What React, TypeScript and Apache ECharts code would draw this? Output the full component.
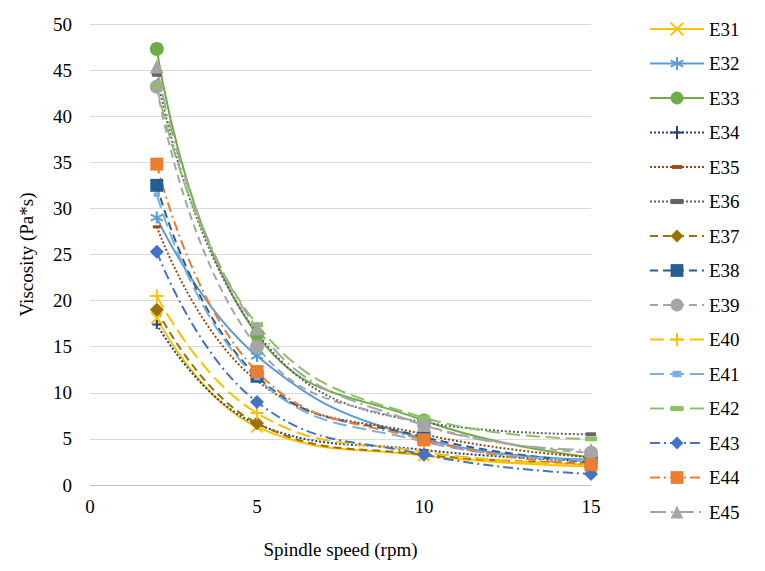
import React, { useEffect, useRef } from 'react';
import * as echarts from 'echarts';

// spindle speeds (rpm)
const speeds = [2, 5, 10, 15];

const names = ['E31', 'E32', 'E33', 'E34', 'E35', 'E36', 'E37', 'E38', 'E39', 'E40', 'E41', 'E42', 'E43', 'E44', 'E45'];

// viscosity (Pa*s) per sample, read at 2, 5, 10, 15 rpm
const e31 = [18.1, 6.3, 3.2, 2.0];
const e32 = [29.0, 14.0, 5.0, 2.8];
const e33 = [47.3, 16.3, 7.0, 3.0];
const e34 = [17.4, 6.6, 3.8, 2.6];
const e35 = [28.0, 11.3, 5.5, 3.0];
const e36 = [44.5, 16.5, 6.8, 5.5];
const e37 = [19.0, 6.7, 3.3, 2.4];
const e38 = [32.5, 11.8, 5.2, 2.5];
const e39 = [43.2, 15.0, 6.5, 3.5];
const e40 = [20.5, 7.8, 3.6, 2.2];
const e41 = [31.5, 11.6, 4.7, 2.7];
const e42 = [43.3, 17.4, 7.3, 5.0];
const e43 = [25.3, 9.0, 3.3, 1.2];
const e44 = [34.8, 12.3, 4.9, 2.2];
const e45 = [45.4, 17.0, 6.5, 3.8];
const values = [e31, e32, e33, e34, e35, e36, e37, e38, e39, e40, e41, e42, e43, e44, e45];

const yTicks = [0, 5, 10, 15, 20, 25, 30, 35, 40, 45, 50];

const SERIF = 'Liberation Serif, DejaVu Serif, serif';

const CROSS = 'path://M0,0L10,10M10,0L0,10';
const STAR = 'path://M5,0L5,10M0.7,2.5L9.3,7.5M0.7,7.5L9.3,2.5';
const PLUS = 'path://M5,0L5,10M0,5L10,5';
// the leading moves keep a square box so the dash keeps its shape in the legend too
const DASH_S = 'path://M0,0M10,10M1,3.5h8v3h-8z';
const DASH_M = 'path://M0,0M10,10M0,3h10v4h-10z';
const BLOCK = 'path://M0,0M10,10M1.5,2.5h7v5h-7z';

const DOT = [2, 2];
const DASH = [8, 5];
const LONG = [14, 6];
const DASHDOT = [10, 4, 2, 4];
const LONGDOT = [16, 5, 2, 5];

const styles: any[] = [
    { c: '#FFC000', t: 'solid', s: CROSS, z: 11, open: true },
    { c: '#5B9BD5', t: 'solid', s: STAR, z: 12, open: true },
    { c: '#70AD47', t: 'solid', s: 'circle', z: 14 },
    { c: '#264478', t: DOT, s: PLUS, z: 9, open: true },
    { c: '#9E480E', t: DOT, s: DASH_S, z: 10 },
    { c: '#636363', t: DOT, s: DASH_M, z: 10 },
    { c: '#997300', t: DASH, s: 'diamond', z: 14 },
    { c: '#255E91', t: DASH, s: 'rect', z: 13 },
    { c: '#A5A5A5', t: DASH, s: 'circle', z: 14 },
    { c: '#FFC000', t: LONG, s: PLUS, z: 13, open: true },
    { c: '#7CAFDD', t: LONG, s: BLOCK, z: 9 },
    { c: '#8CC168', t: LONG, s: DASH_M, z: 12 },
    { c: '#4472C4', t: DASHDOT, s: 'diamond', z: 14 },
    { c: '#ED7D31', t: DASHDOT, s: 'rect', z: 13 },
    { c: '#A5A5A5', t: LONGDOT, s: 'triangle', z: 14 },
];

export default function App() {
    const chartRef = useRef<HTMLDivElement>(null);

    useEffect(() => {
        document.body.style.margin = '0';
        if (!chartRef.current) return;
        const chart = echarts.init(chartRef.current, null, { renderer: 'svg' });

        const series = names.map((name, i) => {
            const st = styles[i];
            return {
                name,
                type: 'line',
                smooth: 0.45,
                data: speeds.map((x, k) => [x, values[i][k]]),
                symbol: st.s,
                symbolSize: st.z,
                showAllSymbol: true,
                lineStyle: { color: st.c, width: 2, type: st.t },
                itemStyle: st.open
                    ? { color: 'none', borderColor: st.c, borderWidth: 2, borderType: 'solid' }
                    : { color: st.c, borderColor: st.c, borderWidth: 0 },
            };
        });

        chart.setOption({
            animation: false,
            textStyle: { fontFamily: SERIF },
            grid: { left: 90, right: 174, top: 24, bottom: 86 },
            legend: {
                orient: 'vertical',
                left: 649,
                top: 19,
                padding: 0,
                itemWidth: 54,
                itemHeight: 16,
                itemGap: 14.5,
                data: names,
                textStyle: { fontFamily: SERIF, fontSize: 19, lineHeight: 20, color: '#000' },
            },
            xAxis: {
                type: 'value',
                min: 0,
                max: 15,
                interval: 5,
                name: 'Spindle speed (rpm)',
                nameLocation: 'middle',
                nameGap: 55,
                nameTextStyle: { fontFamily: SERIF, fontSize: 19, color: '#000' },
                axisLine: { show: true, lineStyle: { color: '#BFBFBF', width: 1 } },
                axisTick: { show: false },
                splitLine: { show: false },
                axisLabel: { fontFamily: SERIF, fontSize: 19, color: '#000', margin: 12 },
            },
            yAxis: {
                type: 'value',
                min: yTicks[0],
                max: yTicks[yTicks.length - 1],
                interval: 5,
                name: 'Viscosity (Pa*s)',
                nameLocation: 'middle',
                nameGap: 54,
                nameTextStyle: { fontFamily: SERIF, fontSize: 19, color: '#000' },
                axisLine: { show: false },
                axisTick: { show: false },
                splitLine: { lineStyle: { color: '#D9D9D9', width: 1 } },
                axisLabel: { fontFamily: SERIF, fontSize: 19, color: '#000', margin: 18 },
            },
            series,
        });

        return () => chart.dispose();
    }, []);

    return <div ref={chartRef} style={{ width: 765, height: 571 }} />;
}
